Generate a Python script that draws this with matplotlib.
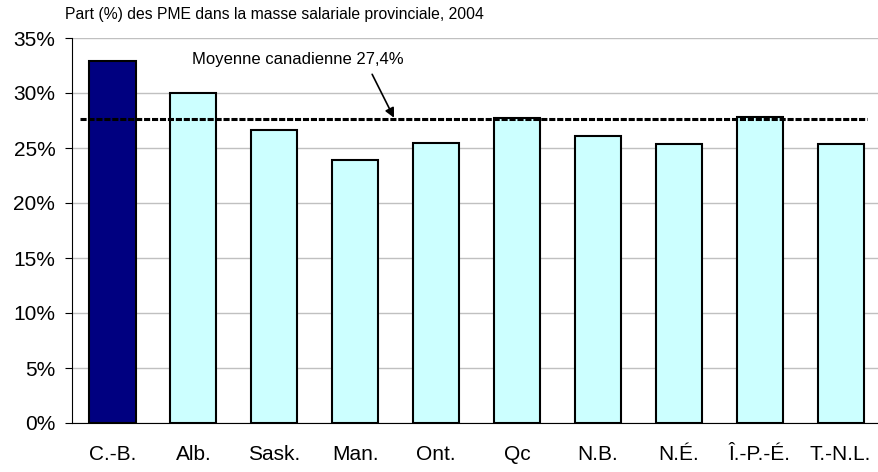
import numpy as np
import matplotlib.pyplot as plt
from matplotlib import font_manager

plt.rcParams['font.family'] = ['Liberation Sans', 'DejaVu Sans']

provinces = ['C.-B.', 'Alb.', 'Sask.', 'Man.', 'Ont.', 'Qc', 'N.B.', 'N.É.', 'Î.-P.-É.', 'T.-N.L.']
shares = [32.9, 30.0, 26.6, 23.9, 25.5, 27.7, 26.1, 25.4, 27.8, 25.4]
moyenne = 27.6
yticks = [0, 5, 10, 15, 20, 25, 30, 35]

# the label in the reference is tall and narrow
names = {f.name for f in font_manager.fontManager.ttflist}
if 'Liberation Sans Narrow' in names:
    note_font, note_size = ['Liberation Sans Narrow', 'DejaVu Sans'], 14.6
else:
    note_font, note_size = ['Liberation Sans', 'DejaVu Sans'], 12

fig = plt.figure(figsize=(8.79, 4.72), dpi=100)
ax = fig.add_axes([72/879, 1 - 423/472, (879-72)/879, (423-38)/472])

x = np.arange(len(provinces))
colors = ['#000080'] + ['#ccffff'] * (len(provinces) - 1)
ax.bar(x, shares, width=0.57, color=colors, edgecolor='black', linewidth=1.5, zorder=2)

ax.set_xlim(-0.5, 9.475)
ax.set_ylim(0, 35)
ax.set_yticks(yticks)
ax.set_yticklabels([f'{t}%' for t in yticks], fontsize=15)
ax.set_xticks(x)
ax.set_xticklabels(provinces, fontsize=15)
ax.tick_params(axis='x', length=0, pad=16)
ax.tick_params(axis='y', length=5, direction='out', pad=7)
ax.grid(axis='y', color='#c0c0c0', linewidth=1, zorder=0)
for s in ['top', 'right']:
    ax.spines[s].set_visible(False)
ax.spines['left'].set_color('black')
ax.spines['bottom'].set_color('black')

# moyenne canadienne
ax.plot([-0.4, 9.33], [moyenne, moyenne], color='black', linewidth=2.2,
        linestyle=(0, (2, 0.6)), zorder=3)
ax.text(0.98, 32.35, 'Moyenne canadienne 27,4%', family=note_font, fontsize=note_size,
        ha='left', va='bottom')
ax.annotate('', xy=(3.48, 27.75), xytext=(3.21, 31.7),
            arrowprops=dict(arrowstyle='-|>', color='black', lw=1.2, shrinkA=0, shrinkB=0,
                            mutation_scale=14))

fig.text(65/879, 1 - 15/472, 'Part (%) des PME dans la masse salariale provinciale, 2004',
         fontsize=11.3, ha='left', va='center')

fig.savefig('out.png', dpi=100)
